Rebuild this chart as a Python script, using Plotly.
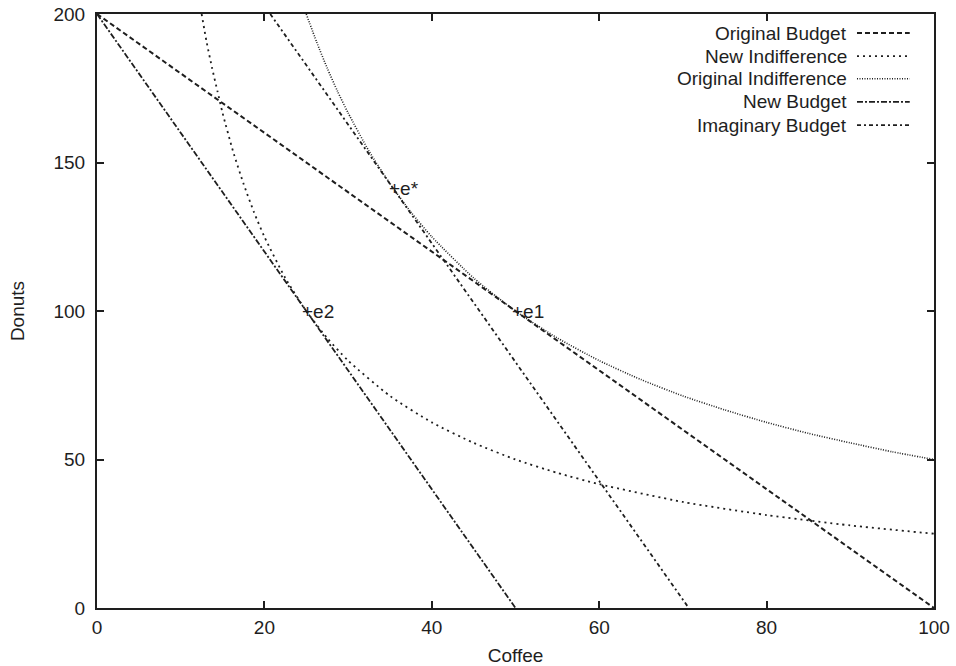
import plotly.graph_objects as go

# ---- data ----
series_names = ["Original Budget", "New Indifference", "Original Indifference",
                "New Budget", "Imaginary Budget"]

orig_budget_x = [0, 100]
orig_budget_y = [200, 0]

new_budget_x = [0, 50]
new_budget_y = [200, 0]

imag_budget_x = [20.7, 70.7]
imag_budget_y = [200, 0]

orig_indiff_x = [25, 26.25, 27.5, 28.75, 30, 32.5, 35, 37.5, 40, 45, 50, 55, 60, 65, 70, 75, 80, 85, 90, 95, 100]
orig_indiff_y = [200, 190.5, 181.8, 173.9, 166.7, 153.8, 142.9, 133.3, 125, 111.1, 100, 90.9, 83.3, 76.9, 71.4, 66.7, 62.5, 58.8, 55.6, 52.6, 50]

new_indiff_x = [12.5, 13.1, 13.75, 14.4, 15, 16.25, 17.5, 18.75, 20, 22.5, 25, 27.5, 30, 35, 40, 45, 50, 55, 60, 70, 80, 90, 100]
new_indiff_y = [200, 190.5, 181.8, 173.9, 166.7, 153.8, 142.9, 133.3, 125, 111.1, 100, 90.9, 83.3, 71.4, 62.5, 55.6, 50, 45.5, 41.7, 35.7, 31.3, 27.8, 25]

point_labels = ["e*", "e1", "e2"]
point_x = [35.36, 50, 25]
point_y = [141.4, 100, 100]

x_ticks = [0, 20, 40, 60, 80, 100]
y_ticks = [0, 50, 100, 150, 200]

# ---- styles ----
INK = "#1e1e1e"
FONT = "Liberation Sans, Arial, Helvetica, sans-serif"
FS = 19
styles = {
    "Original Budget": dict(dash="5px,3px", width=2.0),
    "New Indifference": dict(dash="2px,4px", width=1.8),
    "Original Indifference": dict(dash="1px,1.5px", width=1.6),
    "New Budget": dict(dash="6px,2px,2px,2px", width=1.8),
    "Imaginary Budget": dict(dash="4px,3px,2px,3px", width=1.8),
}
data_map = {
    "Original Budget": (orig_budget_x, orig_budget_y),
    "New Indifference": (new_indiff_x, new_indiff_y),
    "Original Indifference": (orig_indiff_x, orig_indiff_y),
    "New Budget": (new_budget_x, new_budget_y),
    "Imaginary Budget": (imag_budget_x, imag_budget_y),
}

fig = go.Figure()
for name in series_names:
    xs, ys = data_map[name]
    st = styles[name]
    fig.add_trace(go.Scatter(
        x=xs, y=ys, mode="lines", name=name, showlegend=False,
        line=dict(color=INK, width=st["width"], dash=st["dash"],
                  shape="spline" if "Indifference" in name else "linear",
                  smoothing=0.6),
        cliponaxis=True, hoverinfo="skip",
    ))

# point labels "+e1" etc.
for lab, px, py in zip(point_labels, point_x, point_y):
    fig.add_annotation(x=px, y=py, xref="x", yref="y", text="+" + lab,
                       showarrow=False, xanchor="left", yanchor="middle",
                       xshift=-6, font=dict(family=FONT, size=FS, color=INK))

# custom legend (text on the left, sample on the right, like gnuplot)
row_y = [0.968, 0.929, 0.891, 0.852, 0.813]
for name, ry in zip(series_names, row_y):
    st = styles[name]
    fig.add_annotation(x=0.899, y=ry, xref="paper", yref="paper", text=name,
                       showarrow=False, xanchor="right", yanchor="middle",
                       font=dict(family=FONT, size=FS, color=INK))
    fig.add_shape(type="line", xref="paper", yref="paper",
                  x0=0.908, x1=0.971, y0=ry, y1=ry,
                  line=dict(color=INK, width=st["width"], dash=st["dash"]))

axis_common = dict(
    showgrid=False, zeroline=False, showline=True, linecolor=INK, linewidth=2,
    mirror="ticks", ticks="inside", ticklen=7, tickwidth=1.5, tickcolor=INK,
    tickfont=dict(family=FONT, size=FS, color=INK), automargin=False,
    ticklabeloverflow="allow",
)
fig.update_xaxes(range=[0, 100], tickvals=x_ticks, ticktext=[str(v) for v in x_ticks],
                 title=dict(text="Coffee", font=dict(family=FONT, size=FS, color=INK), standoff=15),
                 ticklabelstandoff=1, **axis_common)
fig.update_yaxes(range=[0, 200], tickvals=y_ticks, ticktext=[str(v) for v in y_ticks],
                 title=dict(text="Donuts", font=dict(family=FONT, size=FS, color=INK), standoff=24),
                 ticklabelstandoff=6, **axis_common)

fig.update_layout(
    width=956, height=666,
    margin=dict(l=97, r=22, t=14, b=58),
    paper_bgcolor="white", plot_bgcolor="white",
    font=dict(family=FONT, color=INK),
    showlegend=False, hovermode=False,
)

# remove the default 8px page margin so the figure fills the window exactly
fig.write_html("out.html", config={"displayModeBar": False},
               post_script="document.body.style.margin='0';document.body.style.overflow='hidden';")
